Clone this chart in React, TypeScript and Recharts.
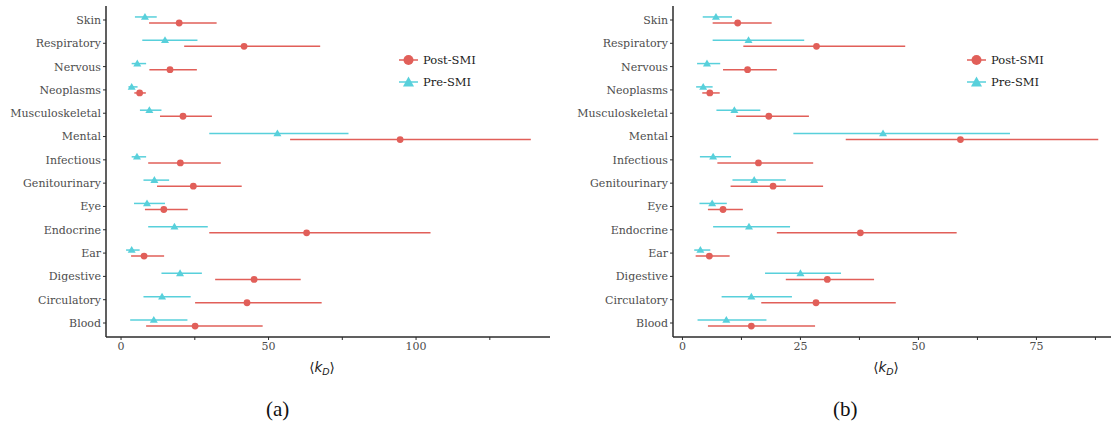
import React from "react";
import { ScatterChart, Scatter, XAxis, YAxis, ErrorBar, Label } from "recharts";

const categories = [
  "Skin", "Respiratory", "Nervous", "Neoplasms", "Musculoskeletal", "Mental", "Infectious",
  "Genitourinary", "Eye", "Endocrine", "Ear", "Digestive", "Circulatory", "Blood",
];

// panel (a)
const preMeanA = [8.1, 14.9, 5.5, 3.6, 9.6, 53.0, 5.4, 11.3, 8.8, 18.1, 3.6, 20.0, 13.9, 11.1];
const preLowA = [4.7, 7.2, 3.6, 2.5, 6.4, 29.9, 3.6, 7.6, 4.4, 9.2, 1.7, 13.7, 7.6, 3.1];
const preHighA = [12.1, 25.9, 8.5, 5.6, 13.7, 77.1, 8.5, 16.3, 14.9, 29.4, 6.3, 27.4, 23.6, 22.5];
const postMeanA = [19.7, 41.7, 16.6, 6.3, 21.0, 94.6, 20.1, 24.5, 14.5, 62.9, 7.8, 45.1, 42.7, 25.1];
const postLowA = [9.5, 21.4, 9.6, 4.5, 13.2, 57.3, 9.2, 12.2, 8.1, 29.9, 3.4, 31.9, 25.1, 8.5];
const postHighA = [32.4, 67.5, 25.7, 8.4, 30.8, 138.9, 33.8, 40.9, 22.6, 104.9, 14.6, 60.9, 68.0, 48.0];
const xTicksA = [0, 25, 50, 75, 100, 125];

// panel (b)
const preMeanB = [7.1, 14.0, 5.2, 4.4, 11.0, 42.5, 6.5, 15.2, 6.3, 14.1, 3.8, 25.0, 14.6, 9.3];
const preLowB = [4.3, 6.4, 3.1, 2.9, 7.2, 23.5, 3.7, 10.6, 3.6, 6.5, 2.5, 17.5, 8.3, 3.2];
const preHighB = [10.5, 25.8, 8.0, 6.4, 16.5, 69.4, 10.3, 21.9, 9.4, 22.8, 5.9, 33.6, 23.2, 17.8];
const postMeanB = [11.7, 28.4, 13.8, 5.8, 18.3, 58.9, 16.1, 19.2, 8.6, 37.7, 5.7, 30.7, 28.3, 14.6];
const postLowB = [6.4, 12.9, 8.6, 4.2, 11.4, 34.6, 7.4, 10.2, 5.4, 20.0, 2.8, 21.9, 16.7, 5.4];
const postHighB = [18.9, 47.2, 20.0, 7.9, 26.8, 88.1, 27.7, 29.8, 12.8, 58.1, 10.0, 40.6, 45.2, 28.1];
const xTicksB = [0, 12.5, 25, 37.5, 50, 62.5, 75, 87.5];

const RED = "#E15F59";
const CYAN = "#58D0DB";
const AXIS = "#2b2b2b";
const TICK_TEXT = "#4d4d4d";
const SERIF = "'DejaVu Serif', serif";
const DODGE = 0.13; // vertical dodge between the two groups, in category units

const n = categories.length;
const yTicks = categories.map((_, i) => i + 1);

// top category sits at the highest y value
const build = (mean: number[], lo: number[], hi: number[], dodge: number) =>
  mean.map((m, i) => ({
    name: categories[i],
    x: m,
    y: n - i + dodge,
    err: [m - lo[i], hi[i] - m],
  }));

const Circle = (p: any) => <circle cx={p.cx} cy={p.cy} r={3.4} fill={RED} />;
const Tri = (p: any) => (
  <path
    d={`M${p.cx},${p.cy - 4} L${p.cx + 4},${p.cy + 2.8} L${p.cx - 4},${p.cy + 2.8} Z`}
    fill={CYAN}
  />
);

const KdLabel = (props: any) => {
  const vb = props.viewBox || {};
  const cx = vb.x + vb.width / 2 - 6;
  return (
    <text
      x={cx}
      y={vb.y + 35}
      textAnchor="middle"
      fill="#1a1a1a"
      fontFamily="'DejaVu Sans', sans-serif"
      fontSize={13.5}
    >
      ⟨<tspan fontStyle="italic">k</tspan>
      <tspan fontStyle="italic" fontSize={9.5} dy={3}>D</tspan>
      <tspan dy={-3}>⟩</tspan>
    </text>
  );
};

function Panel({
  width,
  yAxisWidth,
  domain,
  ticks,
  labelEvery,
  pre,
  post,
}: {
  width: number;
  yAxisWidth: number;
  domain: [number, number];
  ticks: number[];
  labelEvery: number;
  pre: any[];
  post: any[];
}) {
  return (
    <ScatterChart width={width} height={390} margin={{ top: 6, right: 0, bottom: 13, left: 0 }}>
      <XAxis
        type="number"
        dataKey="x"
        domain={domain}
        ticks={ticks}
        allowDataOverflow
        tickFormatter={(v: number) => (v % labelEvery === 0 ? String(v) : "")}
        tick={{ fill: TICK_TEXT, fontSize: 11, fontFamily: SERIF }}
        tickSize={3}
        tickMargin={2}
        axisLine={{ stroke: AXIS, strokeWidth: 1.5 }}
        tickLine={{ stroke: AXIS }}
        height={40}
      >
        <Label content={KdLabel} />
      </XAxis>
      <YAxis
        type="number"
        dataKey="y"
        domain={[0.4, n + 0.6]}
        ticks={yTicks}
        interval={0}
        width={yAxisWidth}
        tickFormatter={(v: number) => categories[n - v]}
        tick={{ fill: TICK_TEXT, fontSize: 11, fontFamily: SERIF }}
        tickSize={3}
        tickMargin={2}
        axisLine={{ stroke: AXIS, strokeWidth: 1.5 }}
        tickLine={{ stroke: AXIS }}
      />
      <Scatter name="Pre-SMI" data={pre} shape={Tri} isAnimationActive={false}>
        <ErrorBar dataKey="err" direction="x" width={0} stroke={CYAN} strokeWidth={1.5} />
      </Scatter>
      <Scatter name="Post-SMI" data={post} shape={Circle} isAnimationActive={false}>
        <ErrorBar dataKey="err" direction="x" width={0} stroke={RED} strokeWidth={1.5} />
      </Scatter>
    </ScatterChart>
  );
}

function LegendBox({ left }: { left: number }) {
  const row = (label: string, marker: React.ReactNode, color: string, top: number) => (
    <div
      style={{
        position: "absolute",
        left: 0,
        top,
        display: "flex",
        alignItems: "center",
        whiteSpace: "nowrap",
      }}
    >
      <svg width={22} height={14}>
        <line x1={1} y1={7} x2={20} y2={7} stroke={color} strokeWidth={1.5} />
        {marker}
      </svg>
      <span style={{ marginLeft: 3, fontFamily: SERIF, fontSize: 11.5, color: "#1a1a1a" }}>{label}</span>
    </div>
  );
  return (
    <div style={{ position: "absolute", left, top: 0, width: 100 }}>
      {row("Post-SMI", <circle cx={10.5} cy={7} r={5} fill={RED} />, RED, 53)}
      {row("Pre-SMI", <path d="M10.5,1.5 L16,11.5 L5,11.5 Z" fill={CYAN} />, CYAN, 75)}
    </div>
  );
}

export default function App() {
  const preA = build(preMeanA, preLowA, preHighA, DODGE);
  const postA = build(postMeanA, postLowA, postHighA, -DODGE);
  const preB = build(preMeanB, preLowB, preHighB, DODGE);
  const postB = build(postMeanB, postLowB, postHighB, -DODGE);
  return (
    <div style={{ position: "absolute", left: 0, top: 0, width: 1111, height: 430, background: "#fff" }}>
      <div style={{ position: "absolute", left: 0, top: 0 }}>
        <Panel
          width={550}
          yAxisWidth={106}
          domain={[-5.1, 145.4]}
          ticks={xTicksA}
          labelEvery={50}
          pre={preA}
          post={postA}
        />
      </div>
      <div style={{ position: "absolute", left: 560, top: 0 }}>
        <Panel
          width={551}
          yAxisWidth={113}
          domain={[-2, 90.8]}
          ticks={xTicksB}
          labelEvery={25}
          pre={preB}
          post={postB}
        />
      </div>
      <LegendBox left={398} />
      <LegendBox left={966} />
      <div style={{ position: "absolute", left: 266, top: 397, fontFamily: "'Liberation Serif', serif", fontSize: 21, color: "#111" }}>
        (a)
      </div>
      <div style={{ position: "absolute", left: 833, top: 397, fontFamily: "'Liberation Serif', serif", fontSize: 21, color: "#111" }}>
        (b)
      </div>
    </div>
  );
}
